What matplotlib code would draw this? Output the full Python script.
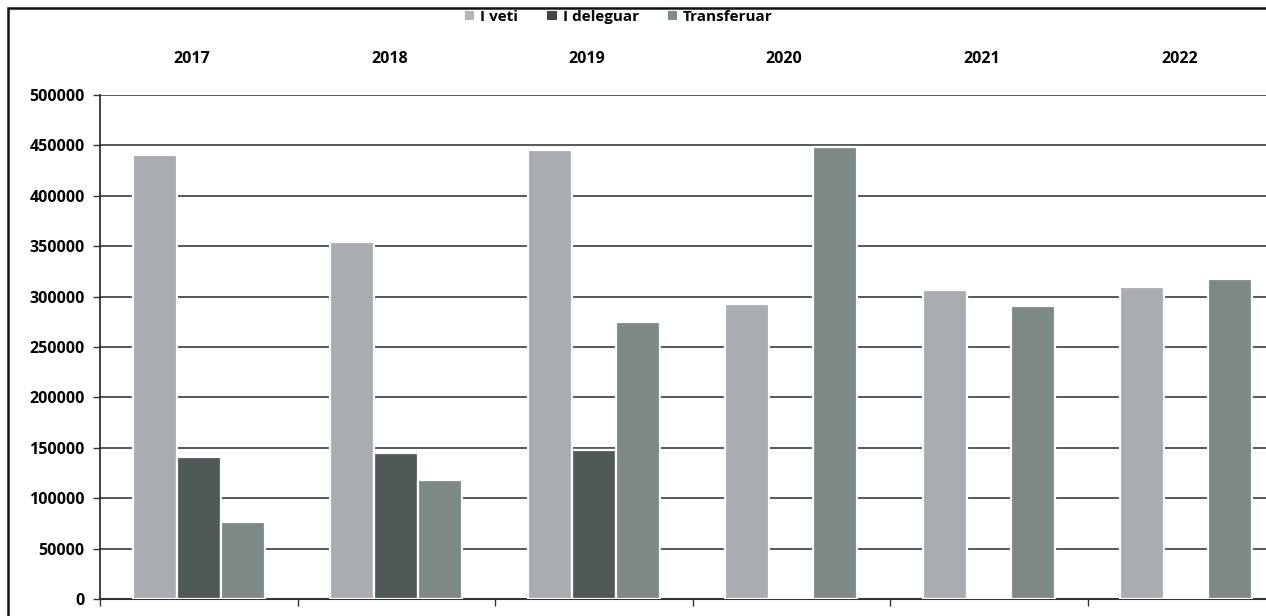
import matplotlib
matplotlib.use("Agg")
import matplotlib.pyplot as plt
import matplotlib.transforms as mtransforms
from matplotlib.patches import Rectangle, Patch
import numpy as np

years = ["2017", "2018", "2019", "2020", "2021", "2022"]
series_names = ["I veti", "I deleguar", "Transferuar"]
i_veti = [440000, 354000, 445000, 293000, 307000, 310000]
i_deleguar = [141000, 145000, 148000, 1800, 1500, 1500]
transferuar = [76000, 118000, 275000, 448000, 291000, 317000]
yticks = [0, 50000, 100000, 150000, 200000, 250000, 300000, 350000, 400000, 450000, 500000]

colors = ["#a9adb2", "#4e5958", "#7d8986"]
legend_colors = ["#b4b6b8", "#3f4645", "#7f8c88"]

plt.rcParams['font.family'] = ['Open Sans', 'DejaVu Sans']
plt.rcParams['font.weight'] = 'bold'

W, H = 1266, 616
fig = plt.figure(figsize=(W / 100, H / 100), dpi=100)
fig.patch.set_facecolor("white")

left_px, bottom_px, top_px = 100, 599, 95
group_px = 197.5
ax = fig.add_axes([left_px / W, (H - bottom_px) / H, 6 * group_px / W, (bottom_px - top_px) / H])

x = np.arange(len(years))
w = 0.222
for k, (vals, c) in enumerate(zip([i_veti, i_deleguar, transferuar], colors)):
    ax.bar(x + (k - 1) * w, vals, width=w, color=c, edgecolor="white", linewidth=1.6,
           zorder=3, label=series_names[k])

ax.set_xlim(-0.5, 5.5)
ax.set_ylim(0, 500000)
ax.set_yticks(yticks)
ax.set_yticklabels([str(v) for v in yticks])
ax.yaxis.grid(True, color="#4a4a4a", linewidth=1.3, zorder=0)
ax.set_axisbelow(True)

ax.set_xticks(x)
ax.set_xticklabels(years)
ax.set_xticks(np.arange(-0.5, 6.0, 1.0), minor=True)
ax.tick_params(axis="x", which="major", top=False, bottom=False, labeltop=True,
               labelbottom=False, pad=16.5, labelsize=11.5)
ax.tick_params(axis="x", which="minor", bottom=True, top=False, length=5, width=1,
               color="#333333", direction="out")
ax.tick_params(axis="y", which="major", length=5, width=1, color="#333333",
               labelsize=11.5, pad=6)
offset = mtransforms.ScaledTranslation(-7 / 100, 0, fig.dpi_scale_trans)
for lbl in ax.get_xticklabels():
    lbl.set_transform(lbl.get_transform() + offset)

for s in ["top", "right"]:
    ax.spines[s].set_visible(False)
ax.spines["left"].set_color("#222222")
ax.spines["left"].set_linewidth(1.2)
ax.spines["bottom"].set_color("#333333")
ax.spines["bottom"].set_linewidth(1.5)

handles = [Patch(facecolor=c, edgecolor="none") for c in legend_colors]
fig.legend(handles, series_names, loc="center", bbox_to_anchor=(619 / W, 1 - 17 / H),
           ncol=3, frameon=False, handlelength=0.6, handleheight=0.6,
           handletextpad=0.4, columnspacing=1.9, prop={'weight': 'bold', 'size': 11})

fig.patches.append(Rectangle((8 / W, -0.1), 1.2, (1 - 8 / H) + 0.1, transform=fig.transFigure,
                             fill=False, edgecolor="#111111", linewidth=1.8))

fig.savefig("out.png", dpi=100)
